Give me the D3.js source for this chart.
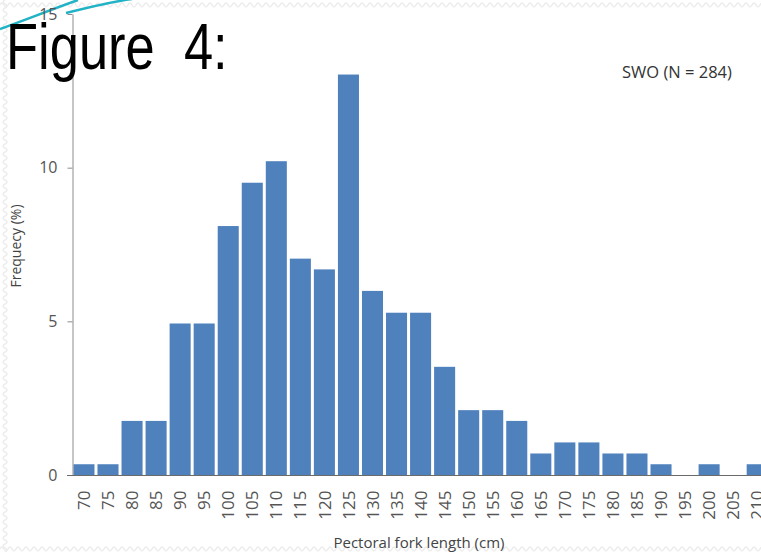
<!DOCTYPE html>
<html>
<head>
<meta charset="utf-8">
<script src="https://cdn.jsdelivr.net/npm/d3@7"></script>
<style>
  body { margin: 0; background: #fff; }
  svg { display: block; }
</style>
</head>
<body>
<div id="chart"></div>
<script>
// fork length classes (cm)
const lengths = ["70","75","80","85","90","95","100","105","110","115","120","125","130","135","140",
                 "145","150","155","160","165","170","175","180","185","190","195","200","205","210"];
// frequency (%)
const freq = [0.35, 0.35, 1.76, 1.76, 4.93, 4.93, 8.10, 9.51, 10.21, 7.04, 6.69, 13.03, 5.99, 5.28, 5.28,
              3.52, 2.11, 2.11, 1.76, 0.70, 1.06, 1.06, 0.70, 0.70, 0.35, 0, 0.35, 0, 0.35];
const yTicks = [0, 5, 10, 15];

const W = 761, H = 552;
const svg = d3.select("#chart").append("svg")
    .attr("width", W).attr("height", H);

svg.append("rect").attr("width", W).attr("height", H).attr("fill", "#fff");

// faint wavy slide border
function wave(x0, y0, len, horiz) {
    let p = "M" + x0 + "," + y0;
    for (let i = 0; i < len; i += 8) {
        if (horiz) p += " q2,-4 4,0 q2,4 4,0";
        else p += " q-4,2 0,4 q4,2 0,4";
    }
    return p;
}
svg.append("path").attr("d", wave(0, 5, W, true))
    .attr("fill", "none").attr("stroke", "#ededed").attr("stroke-width", 1.5);
svg.append("path").attr("d", wave(5, 0, H, false))
    .attr("fill", "none").attr("stroke", "#ededed").attr("stroke-width", 1.5);
svg.append("path").attr("d", wave(0, 549, W, true))
    .attr("fill", "none").attr("stroke", "#ededed").attr("stroke-width", 1.5);

// cyan swoosh in the corner
svg.append("path").attr("d", "M0,29 C25,20 50,10 78,0")
    .attr("fill", "none").attr("stroke", "#22b2c6").attr("stroke-width", 2.5);
svg.append("path").attr("d", "M66,13 C90,7 110,2 132,-1")
    .attr("fill", "none").attr("stroke", "#22b2c6").attr("stroke-width", 2.5);

const x = d3.scaleBand()
    .domain(lengths)
    .range([72, 72 + 24.04 * lengths.length])
    .paddingInner(0.125)
    .paddingOuter(0.06);

const y = d3.scaleLinear()
    .domain([0, 15])
    .range([475, 14]);

// bars
svg.selectAll(".bar")
    .data(freq)
    .join("rect")
    .attr("class", "bar")
    .attr("x", (d, i) => x(lengths[i]))
    .attr("width", x.bandwidth())
    .attr("y", d => y(d))
    .attr("height", d => y(0) - y(d))
    .attr("fill", "#4f81bd");

// y axis
const yAxis = svg.append("g")
    .attr("transform", "translate(72.5,0)")
    .call(d3.axisLeft(y).tickValues(yTicks).tickSize(5).tickSizeOuter(0).tickPadding(10));
yAxis.select(".domain").attr("stroke", "#8c8c8c");
yAxis.selectAll(".tick line").attr("stroke", "#8c8c8c");
yAxis.selectAll("text")
    .attr("font-family", "Open Sans, sans-serif")
    .attr("font-size", 16)
    .attr("fill", "#555");

// x axis
const xAxis = svg.append("g")
    .attr("transform", "translate(0,475.5)")
    .call(d3.axisBottom(x).tickSize(0).tickSizeOuter(0));
xAxis.select(".domain").attr("d", "M67,0H" + W).attr("stroke", "#6b6b6b");
xAxis.selectAll("text")
    .attr("font-family", "Open Sans, sans-serif")
    .attr("font-size", 17)
    .attr("fill", "#555")
    .attr("transform", "rotate(-90)")
    .attr("text-anchor", "end")
    .attr("x", -15)
    .attr("y", 0)
    .attr("dy", "0.36em");

// axis titles
svg.append("text")
    .attr("x", 419).attr("y", 548)
    .attr("text-anchor", "middle")
    .attr("font-family", "Open Sans, sans-serif")
    .attr("font-size", 15)
    .attr("fill", "#444")
    .text("Pectoral fork length (cm)");

svg.append("text")
    .attr("transform", "translate(21,246) rotate(-90)")
    .attr("text-anchor", "middle")
    .attr("font-family", "Open Sans, sans-serif")
    .attr("font-size", 14)
    .attr("fill", "#444")
    .text("Frequecy (%)");

svg.append("text")
    .attr("x", 622).attr("y", 78)
    .attr("font-family", "Open Sans, sans-serif")
    .attr("font-size", 16.5)
    .attr("fill", "#333")
    .text("SWO (N = 284)");

// slide title
svg.append("text")
    .attr("transform", "translate(6,69) scale(0.82,1)")
    .attr("font-family", "Liberation Sans, Arial, sans-serif")
    .attr("font-size", 64)
    .attr("fill", "#000")
    .style("white-space", "pre")
    .text("Figure  4:");
</script>
</body>
</html>
